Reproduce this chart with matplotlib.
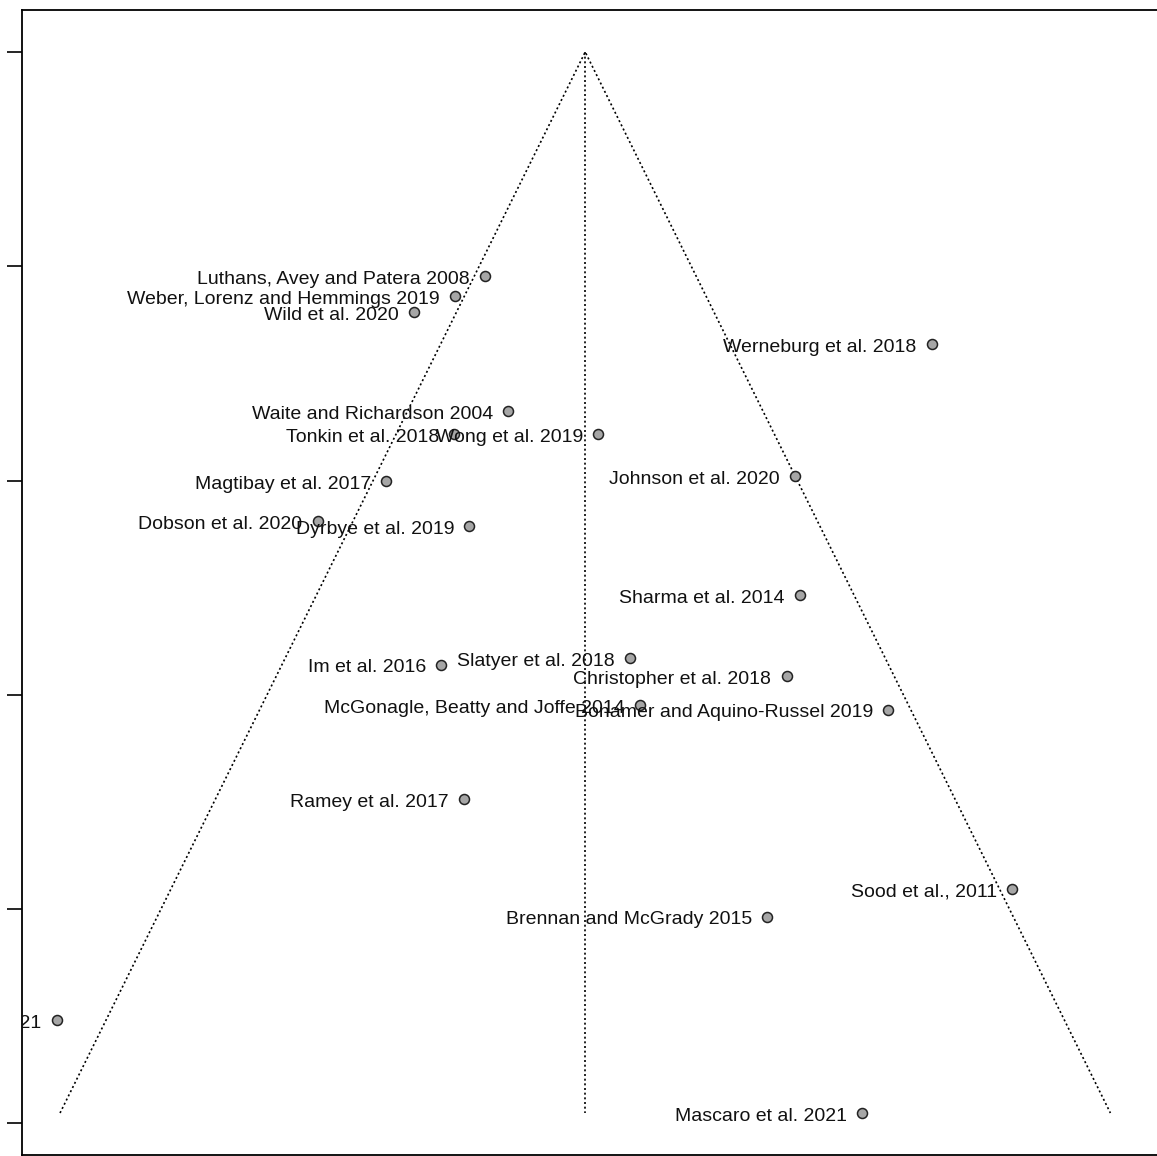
import matplotlib.pyplot as plt

plt.rcParams['font.family'] = ['Liberation Sans', 'DejaVu Sans']

# study labels, observed effects and standard errors
studies = [
    "Luthans, Avey and Patera 2008", "Weber, Lorenz and Hemmings 2019", "Wild et al. 2020",
    "Werneburg et al. 2018", "Waite and Richardson 2004", "Tonkin et al. 2018",
    "Wong et al. 2019", "Johnson et al. 2020", "Magtibay et al. 2017",
    "Dobson et al. 2020", "Dyrbye et al. 2019", "Sharma et al. 2014",
    "Im et al. 2016", "Slatyer et al. 2018", "Christopher et al. 2018",
    "McGonagle, Beatty and Joffe 2014", "Bonamer and Aquino-Russel 2019", "Ramey et al. 2017",
    "Sood et al., 2011", "Brennan and McGrady 2015", "et al. 2021",
    "Mascaro et al. 2021",
]
yi = [0.215, 0.160, 0.084, 1.040, 0.258, 0.158, 0.424, 0.788, 0.032, -0.094, 0.186,
      0.797, 0.134, 0.483, 0.772, 0.502, 0.960, 0.176, 1.189, 0.736, -0.576, 0.912]
sei = [0.1045, 0.1139, 0.1213, 0.1363, 0.1675, 0.1783, 0.1783, 0.1979, 0.2002, 0.2189,
       0.2212, 0.2534, 0.2860, 0.2828, 0.2912, 0.3047, 0.3070, 0.3486, 0.3906, 0.4036,
       0.4517, 0.4951]
estimate = 0.40
se_ticks = [0.0, 0.1, 0.2, 0.3, 0.4, 0.5]

W, H = 1157, 1156
fig = plt.figure(figsize=(W / 100, H / 100), dpi=100)
ax = fig.add_axes([22 / W, 1 / H, 1145 / W, 1145 / H])

se_max = max(sei)
half = 1.96 * se_max
# funnel and reference line
ax.plot([estimate - half, estimate, estimate + half], [se_max, 0, se_max],
        color='black', ls=(0, (1.2, 1.6)), lw=1.2)
ax.plot([estimate, estimate], [0, se_max], color='black', ls=(0, (1.2, 1.6)), lw=1.2)

ax.plot(yi, sei, 'o', ms=7.2, mfc='#a6a6a6', mec='#222222', mew=1.1, zorder=3)
for name, x, y in zip(studies, yi, sei):
    ax.annotate(name, (x, y), xytext=(-11, -2.2), textcoords='offset points',
                ha='right', va='center', fontsize=14, color='#111111',
                annotation_clip=False, clip_on=True)

ax.set_xlim(-0.6407, 1.475)
ax.set_ylim(0.5147, -0.0196)
ax.set_yticks(se_ticks)
ax.set_yticklabels([])
ax.set_xticks([])
ax.tick_params(axis='y', direction='out', length=11, width=1.2)
for s in ax.spines.values():
    s.set_linewidth(1.3)

fig.savefig('out.png', dpi=100)
